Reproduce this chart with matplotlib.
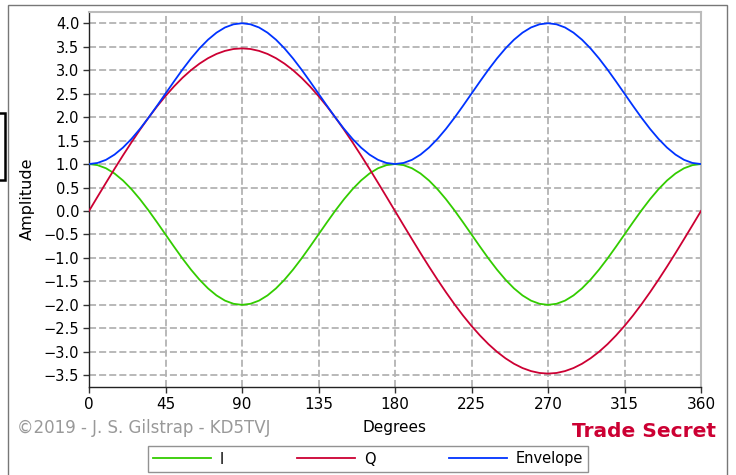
import matplotlib
matplotlib.use("Agg")
import matplotlib.pyplot as plt
from matplotlib.patches import Rectangle

degrees = list(range(0, 361, 5))

i_half = [1.0, 0.977, 0.910, 0.799, 0.649, 0.464, 0.25, 0.013, -0.240, -0.5,
          -0.760, -1.013, -1.25, -1.464, -1.649, -1.799, -1.910, -1.977, -2.0,
          -1.977, -1.910, -1.799, -1.649, -1.464, -1.25, -1.013, -0.760, -0.5,
          -0.240, 0.013, 0.25, 0.464, 0.649, 0.799, 0.910, 0.977]
i_vals = i_half + i_half + [1.0]

q_half = [0.0, 0.302, 0.601, 0.897, 1.185, 1.464, 1.732, 1.987, 2.227, 2.449,
          2.653, 2.838, 3.0, 3.139, 3.255, 3.346, 3.411, 3.451, 3.464,
          3.451, 3.411, 3.346, 3.255, 3.139, 3.0, 2.838, 2.653, 2.449,
          2.227, 1.987, 1.732, 1.464, 1.185, 0.897, 0.601, 0.302]
q_vals = q_half + [-v for v in q_half] + [0.0]

e_half = [1.0, 1.023, 1.090, 1.201, 1.351, 1.536, 1.75, 1.987, 2.240, 2.5,
          2.760, 3.013, 3.25, 3.464, 3.649, 3.799, 3.910, 3.977, 4.0,
          3.977, 3.910, 3.799, 3.649, 3.464, 3.25, 3.013, 2.760, 2.5,
          2.240, 1.987, 1.75, 1.536, 1.351, 1.201, 1.090, 1.023]
e_vals = e_half + e_half + [1.0]

x_ticks = [0, 45, 90, 135, 180, 225, 270, 315, 360]
y_ticks = [-3.5, -3.0, -2.5, -2.0, -1.5, -1.0, -0.5, 0.0, 0.5, 1.0, 1.5, 2.0, 2.5, 3.0, 3.5, 4.0]
series_names = ["I", "Q", "Envelope"]
series_colors = ["#33cc00", "#cc0033", "#0033ff"]

W, H = 736, 475
fig = plt.figure(figsize=(W / 100, H / 100), dpi=100)
ax = fig.add_axes([89 / W, 1 - 387 / H, (701 - 89) / W, (387 - 11.5) / H])

lines = []
for vals, name, col in zip([i_vals, q_vals, e_vals], series_names, series_colors):
    ln, = ax.plot(degrees, vals, color=col, lw=1.3, label=name, zorder=3)
    lines.append(ln)

ax.set_xlim(0, 360)
ax.set_ylim(-3.75, 4.25)
ax.set_xticks(x_ticks)
ax.set_yticks(y_ticks)
ax.set_xticklabels([str(v) for v in x_ticks], fontsize=11)
ax.set_yticklabels([f"{v:.1f}".replace("-", "\u2212") for v in y_ticks], fontsize=10.5)
ax.tick_params(direction="out", length=4, width=1, color="#333333", pad=3)
ax.grid(True, color="#b3b3b3", linestyle=(0, (3.9, 1.7)), lw=1.3, zorder=0)
for s in ["left", "bottom"]:
    ax.spines[s].set_color("#222222")
    ax.spines[s].set_linewidth(1.0)
for s in ["top", "right"]:
    ax.spines[s].set_color("#bbbbbb")
    ax.spines[s].set_linewidth(1.5)

ax.set_xlabel("Degrees", fontsize=11, labelpad=6)
ax.set_ylabel("Amplitude", fontsize=11.5, labelpad=6)

fig.text(17 / W, 1 - 433 / H, "\u00a92019 - J. S. Gilstrap - KD5TVJ", fontsize=12,
         color="#999999", ha="left", va="baseline")
fig.text(716 / W, 1 - 437 / H, "Trade Secret", fontsize=14.5, fontweight="bold",
         color="#cc0033", ha="right", va="baseline")

leg = fig.legend(lines, series_names, loc="center", bbox_to_anchor=(368 / W, 1 - 459 / H),
                 ncol=3, fontsize=10.5, handlelength=4.0, columnspacing=5.0,
                 handletextpad=0.6, frameon=True, fancybox=False, borderpad=0.35)
leg.get_frame().set_edgecolor("#777777")
leg.get_frame().set_linewidth(1.0)

# outer frame
fig.patches.append(Rectangle((8 / W, -0.1), (727 - 8) / W, 1.1 - 5 / H, transform=fig.transFigure,
                             fill=False, edgecolor="#777777", lw=1.0, zorder=0))
# partial black box at left edge
fig.patches.append(Rectangle((-6 / W, 1 - 180 / H), 11 / W, 67 / H, transform=fig.transFigure,
                             fill=False, edgecolor="black", lw=1.8, zorder=0))

fig.savefig("out.png", dpi=100)
